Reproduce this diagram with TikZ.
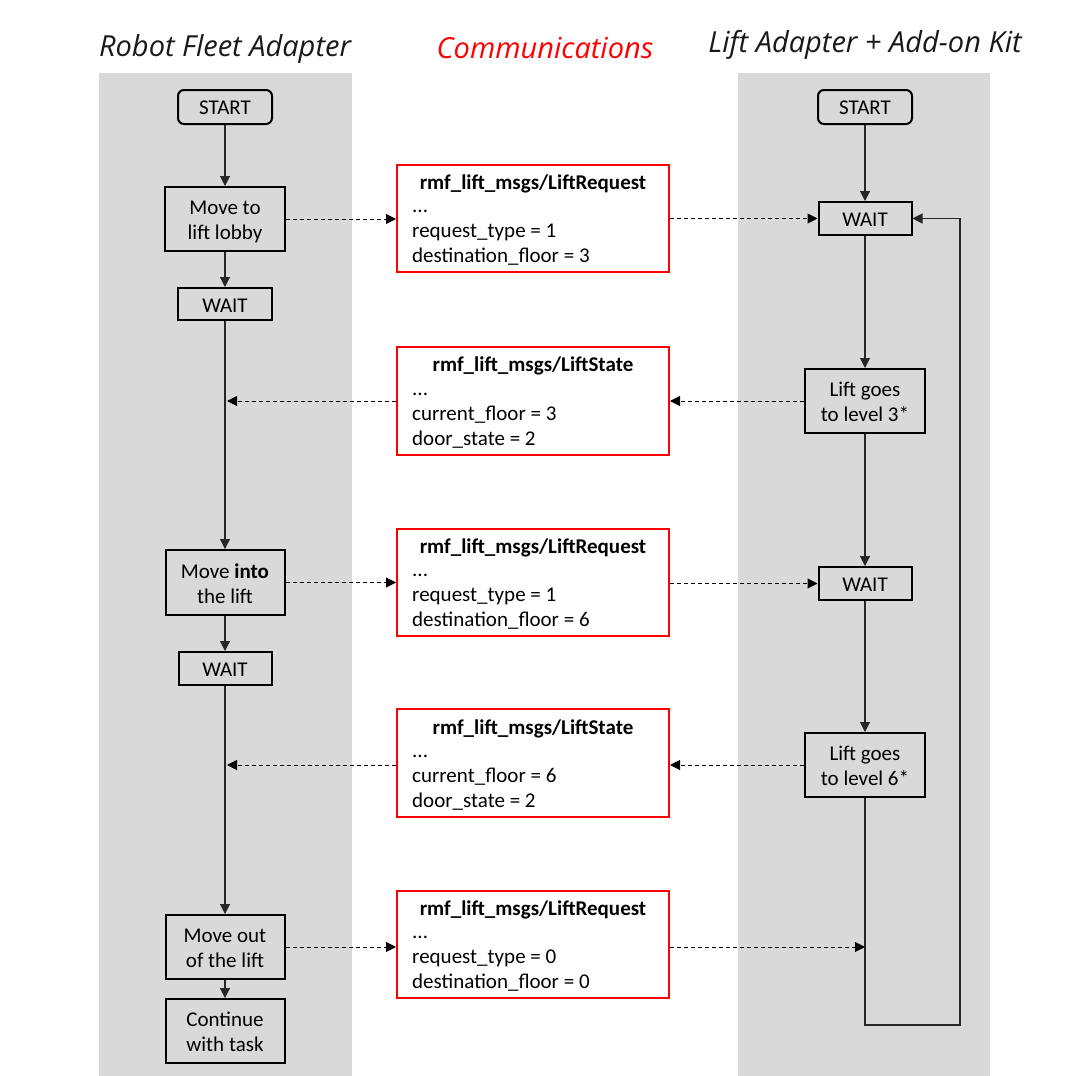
\documentclass[tikz,border=0pt]{standalone}
\usepackage{fontspec}
\setmainfont{Carlito}
\newfontfamily\titlefont{Open Sans}
\usetikzlibrary{arrows.meta,positioning}
\definecolor{panelgray}{HTML}{D9D9D9}
\definecolor{msgred}{HTML}{FF0000}
\newcommand\tallstrut{\rule{0pt}{23.5pt}}
\tikzset{
  bodyfont/.style={font=\fontsize{21}{25}\selectfont},
  stepbox/.style={draw=black,line width=2pt,fill=panelgray,inner sep=0pt,align=center,bodyfont},
  startbox/.style={stepbox,rounded corners=6pt},
  msgbox/.style={draw=msgred,line width=2pt,fill=white,inner sep=0pt},
  titletext/.style={font=\titlefont\itshape\fontsize{29}{34}\selectfont},
  flow/.style={draw=black!85,line width=1.1pt,-{Triangle[length=10pt,width=10pt]}},
  msgflow/.style={draw=black,line width=1pt,dash pattern=on 4pt off 3pt,-{Triangle[length=10pt,width=10pt]}},
  msgtitle/.style={font=\fontsize{21}{25}\selectfont\bfseries,inner sep=0pt},
  msglines/.style={bodyfont,align=left,inner sep=0pt,anchor=west},
}
\begin{document}
\begin{tikzpicture}[x=1pt,y=-1pt]
\useasboundingbox (0,0) rectangle (1080,1076);
% panels
\fill[panelgray] (99,73) rectangle (352,1076);
\fill[panelgray] (738,73) rectangle (990,1076);
% titles
\node[titletext,text=black!90] (tleft) at (225,49) {Robot Fleet Adapter};
\node[titletext,text=msgred] (tmid) at (545,48) {Communications};
\node[titletext,text=black!90] (tright) at (865,45) {Lift Adapter + Add-on Kit};

% left column
\node[startbox,minimum width=94pt,minimum height=34pt] (startL) at (225,107) {\rule{0pt}{16pt}START};
\node[stepbox,minimum width=120pt,minimum height=64pt] (moveA) at (225,219) {\tallstrut Move to\\lift lobby\strut};
\node[stepbox,minimum width=94pt,minimum height=32pt] (waitA) at (225,304) {\rule{0pt}{16pt}WAIT};
\node[stepbox,minimum width=119pt,minimum height=65pt] (moveB) at (225,582.5) {\tallstrut Move \textbf{into}\\the lift\strut};
\node[stepbox,minimum width=93pt,minimum height=33pt] (waitB) at (225,668.5) {\rule{0pt}{16pt}WAIT};
\node[stepbox,minimum width=119pt,minimum height=64pt] (moveC) at (225,947) {\tallstrut Move out\\of the lift\strut};
\node[stepbox,minimum width=119pt,minimum height=64pt] (cont) at (225,1031) {\tallstrut Continue\\with task\strut};

% right column
\node[startbox,minimum width=94pt,minimum height=34pt] (startR) at (865,107) {\rule{0pt}{16pt}START};
\node[stepbox,minimum width=93pt,minimum height=33pt] (waitR1) at (865,218.5) {\rule{0pt}{16pt}WAIT};
\node[stepbox,minimum width=120pt,minimum height=64pt] (liftA) at (865,401) {\tallstrut Lift goes\\to level 3*\strut};
\node[stepbox,minimum width=93pt,minimum height=33pt] (waitR2) at (865,583.5) {\rule{0pt}{16pt}WAIT};
\node[stepbox,minimum width=120pt,minimum height=64pt] (liftB) at (865,765) {\tallstrut Lift goes\\to level 6*\strut};

% message boxes
\node[msgbox,minimum width=272pt,minimum height=107pt] (msgA) at (533,218.5) {};
\node[msgtitle] (msgAt) at (533,184) {rmf\_lift\_msgs/LiftRequest};
\node[msglines] (msgAl) at (412,232.5) {\strut...\\request\_type = 1\\destination\_floor = 3\strut};

\node[msgbox,minimum width=272pt,minimum height=108pt] (msgB) at (533,401) {};
\node[msgtitle] (msgBt) at (533,366) {rmf\_lift\_msgs/LiftState};
\node[msglines] (msgBl) at (412,415) {\strut...\\current\_floor = 3\\door\_state = 2\strut};

\node[msgbox,minimum width=272pt,minimum height=107pt] (msgC) at (533,582.5) {};
\node[msgtitle] (msgCt) at (533,548) {rmf\_lift\_msgs/LiftRequest};
\node[msglines] (msgCl) at (412,596.5) {\strut...\\request\_type = 1\\destination\_floor = 6\strut};

\node[msgbox,minimum width=272pt,minimum height=108pt] (msgD) at (533,763) {};
\node[msgtitle] (msgDt) at (533,729) {rmf\_lift\_msgs/LiftState};
\node[msglines] (msgDl) at (412,777.5) {\strut...\\current\_floor = 6\\door\_state = 2\strut};

\node[msgbox,minimum width=272pt,minimum height=107pt] (msgE) at (533,944.5) {};
\node[msgtitle] (msgEt) at (533,910) {rmf\_lift\_msgs/LiftRequest};
\node[msglines] (msgEl) at (412,958.5) {\strut...\\request\_type = 0\\destination\_floor = 0\strut};

% loop coordinates
\coordinate (loopBL) at (865,1025);
\coordinate (loopBR) at (960,1025);

% left flow
\draw[flow] (startL.south) -- (moveA.north);
\draw[flow] (moveA.south) -- (waitA.north);
\draw[flow] (waitA.south) -- (moveB.north);
\draw[flow] (moveB.south) -- (waitB.north);
\draw[flow] (waitB.south) -- (moveC.north);
\draw[flow] (moveC.south) -- (cont.north);

% right flow
\draw[flow] (startR.south) -- (waitR1.north);
\draw[flow] (waitR1.south) -- (liftA.north);
\draw[flow] (liftA.south) -- (waitR2.north);
\draw[flow] (waitR2.south) -- (liftB.north);
\draw[flow] (liftB.south) -- (loopBL) -- (loopBR) -- (loopBR |- waitR1.east) -- (waitR1.east);

% message flows
\draw[msgflow] (moveA.east) -- (moveA.east -| msgA.west);
\draw[msgflow] (msgA.east |- waitR1.west) -- (waitR1.west);
\draw[msgflow] (liftA.west) -- (liftA.west -| msgB.east);
\draw[msgflow,shorten >=2pt] (msgB.west |- liftA.west) -- (liftA.west -| waitA.south);
\draw[msgflow] (moveB.east) -- (moveB.east -| msgC.west);
\draw[msgflow] (msgC.east |- waitR2.west) -- (waitR2.west);
\draw[msgflow] (liftB.west) -- (liftB.west -| msgD.east);
\draw[msgflow,shorten >=2pt] (msgD.west |- liftB.west) -- (liftB.west -| waitB.south);
\draw[msgflow] (moveC.east) -- (moveC.east -| msgE.west);
\draw[msgflow] (msgE.east |- moveC.east) -- (moveC.east -| loopBL);
\end{tikzpicture}
\end{document}
